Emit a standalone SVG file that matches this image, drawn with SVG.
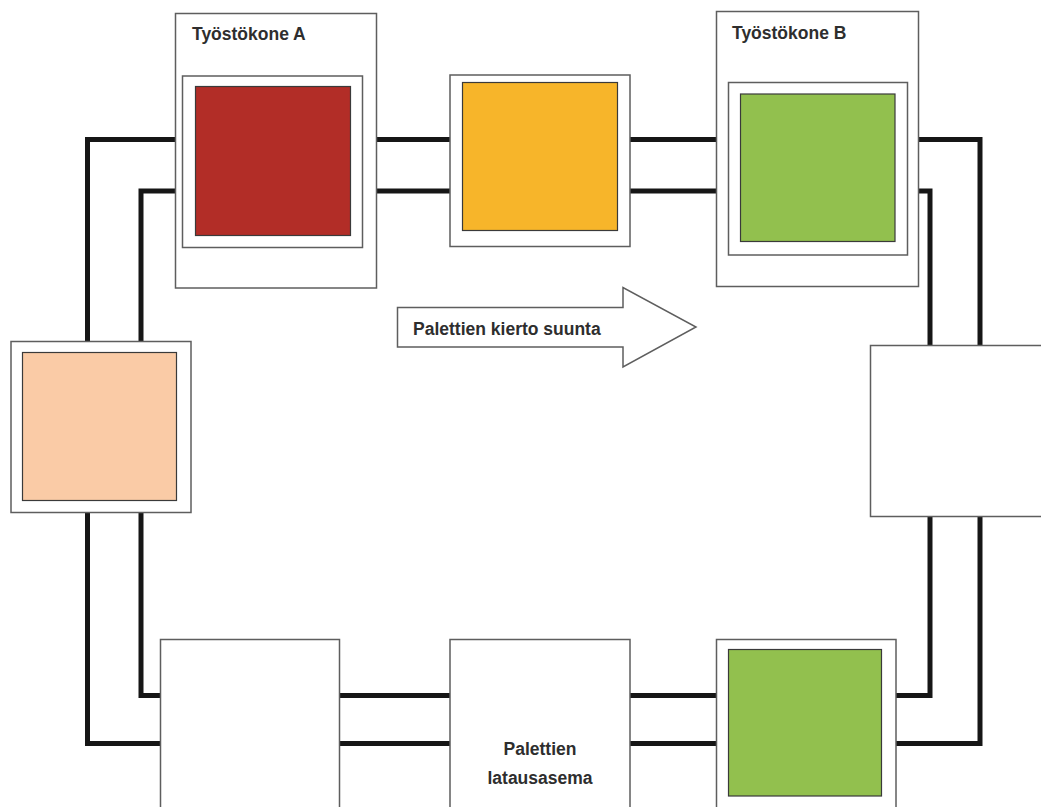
<svg xmlns="http://www.w3.org/2000/svg" width="1041" height="807" viewBox="0 0 1041 807">
  <style>
    .frame { fill: #ffffff; stroke: #5e5e5e; stroke-width: 1.5; }
    .pallet { stroke: #3a3a3a; stroke-width: 1.2; }
    .rail { fill: none; stroke: #161616; stroke-width: 5; stroke-linejoin: miter; }
    .label { font-family: "Liberation Sans", Arial, sans-serif; font-weight: bold; font-size: 17.5px; fill: #2e2e2e; }
  </style>
  <rect width="1041" height="807" fill="#ffffff"/>

  <g id="connectors">
    <!-- top rails -->
    <path class="rail" d="M376 139.5 H451"/>
    <path class="rail" d="M376 191 H451"/>
    <path class="rail" d="M629 139.5 H717"/>
    <path class="rail" d="M629 191 H717"/>
    <!-- left rails -->
    <path class="rail" d="M176 139.5 H87.5 V342"/>
    <path class="rail" d="M176 191 H141 V342"/>
    <path class="rail" d="M87.5 512 V743.5 H161"/>
    <path class="rail" d="M141 512 V695.5 H161"/>
    <!-- bottom rails -->
    <path class="rail" d="M339 695.5 H451"/>
    <path class="rail" d="M339 743.5 H451"/>
    <path class="rail" d="M629 695.5 H717"/>
    <path class="rail" d="M629 743.5 H717"/>
    <!-- right rails -->
    <path class="rail" d="M895 695.5 H930 V516"/>
    <path class="rail" d="M895 743.5 H980 V516"/>
    <path class="rail" d="M918 139.5 H980 V346"/>
    <path class="rail" d="M918 191 H930 V346"/>
  </g>

  <g id="machine-a">
    <rect class="frame" x="175.5" y="13.5" width="201" height="274.5"/>
    <text class="label" x="192" y="40">Työstökone A</text>
    <rect class="frame" x="182.5" y="76" width="180" height="171.5"/>
    <rect class="pallet" x="195.5" y="86.5" width="155" height="149" fill="#B22D27"/>
  </g>

  <g id="station-yellow">
    <rect class="frame" x="450" y="75" width="180" height="171.5"/>
    <rect class="pallet" x="462.5" y="82.5" width="155" height="148" fill="#F7B52A"/>
  </g>

  <g id="machine-b">
    <rect class="frame" x="716.5" y="11.5" width="202" height="275"/>
    <text class="label" x="732" y="39">Työstökone B</text>
    <rect class="frame" x="728.5" y="82.5" width="179" height="172.5"/>
    <rect class="pallet" x="740.5" y="94" width="154.5" height="147.5" fill="#92C04E"/>
  </g>

  <g id="station-left">
    <rect class="frame" x="11" y="341.5" width="180" height="171"/>
    <rect class="pallet" x="22.5" y="352.5" width="154" height="148" fill="#FACBA6"/>
  </g>

  <g id="station-right">
    <rect class="frame" x="870.5" y="345.5" width="185" height="171"/>
  </g>

  <g id="station-bottom-left">
    <rect class="frame" x="160.5" y="639.5" width="179" height="190"/>
  </g>

  <g id="loading-station">
    <rect class="frame" x="450" y="639.5" width="180" height="190"/>
    <text class="label" x="540" y="755" text-anchor="middle">Palettien</text>
    <text class="label" x="540" y="784" text-anchor="middle">latausasema</text>
  </g>

  <g id="station-bottom-right">
    <rect class="frame" x="716.5" y="639.5" width="179.5" height="190"/>
    <rect class="pallet" x="728.5" y="649.5" width="153" height="146.5" fill="#92C04E"/>
  </g>

  <g id="direction-arrow">
    <polygon points="397.5,307.5 623,307.5 623,287.5 696,327 623,367 623,347 397.5,347" fill="#ffffff" stroke="#5e5e5e" stroke-width="1.5"/>
    <text class="label" x="413" y="335">Palettien kierto suunta</text>
  </g>
</svg>
